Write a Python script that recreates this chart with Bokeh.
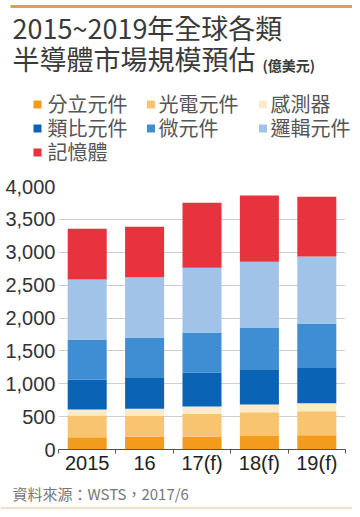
from bokeh.plotting import figure
from bokeh.models import ColumnDataSource, Range1d, FixedTicker, NumeralTickFormatter
from bokeh.layouts import column
from bokeh.embed import file_html
from bokeh.resources import INLINE
from bokeh.core.properties import value

# ---------------- data (億美元) ----------------
years = ["2015", "16", "17(f)", "18(f)", "19(f)"]
series_names = ["分立元件", "光電元件", "感測器", "類比元件", "微元件", "邏輯元件", "記憶體"]
discrete = [186, 194, 195, 205, 215]
opto = [333, 319, 350, 360, 365]
sensor = [88, 108, 110, 120, 125]
analog = [452, 478, 515, 535, 545]
micro = [613, 606, 608, 635, 665]
logic = [915, 915, 988, 1000, 1020]
memory = [772, 768, 988, 1008, 910]
y_ticks = [0, 500, 1000, 1500, 2000, 2500, 3000, 3500, 4000]

title_line1 = "2015~2019年全球各類"
title_line2 = "半導體市場規模預估"
unit_text = "(億美元)"
source_text = "資料來源：WSTS，2017/6"

colors = ["#F29B1D", "#F8C470", "#FCEBCB", "#0B63B5", "#3F8ED3", "#A2C3E8", "#E8333E"]

CJK = "Noto Sans CJK TC"
LAT = "Liberation Sans"

W = 352
HEADER_H = 173

# ---------------- header (title + legend) ----------------
header = figure(width=W, height=HEADER_H, x_range=Range1d(0, W), y_range=Range1d(HEADER_H, 0),
                x_axis_location=None, y_axis_location=None, toolbar_location=None,
                output_backend="svg", min_border=0, outline_line_color=None, frame_align=False)
header.xgrid.visible = False
header.ygrid.visible = False

header.segment(x0=[10], y0=[6], x1=[352], y1=[6], line_color="#D8A24E", line_width=3)
header.text(x=[12], y=[27], text=[title_line1], text_font=value(CJK), text_font_size="27px",
            text_color="#3a3a3a", text_baseline="middle", text_align="left")
header.text(x=[12], y=[58], text=[title_line2], text_font=value(CJK), text_font_size="27px",
            text_color="#3a3a3a", text_baseline="middle", text_align="left")
header.text(x=[262], y=[64], text=[unit_text], text_font=value(CJK), text_font_size="14px",
            text_font_style="bold", text_color="#3a3a3a", text_baseline="middle", text_align="left")

sq_x = [37, 150.5, 262.5]
tx_x = [47, 158, 270]
row_y = [103, 127, 151]
lx, ly, ltx = [], [], []
for i, name in enumerate(series_names):
    c, r = i % 3, i // 3
    lx.append(sq_x[c]); ly.append(row_y[r] + 1); ltx.append(tx_x[c])
header.rect(x=lx, y=ly, width=8, height=8, width_units="screen", height_units="screen",
            fill_color=colors, line_color=None)
header.text(x=ltx, y=[row_y[i // 3] for i in range(len(series_names))], text=series_names,
            text_font=value(CJK), text_font_size="20px", text_color="#555555",
            text_baseline="middle", text_align="left")

# ---------------- chart ----------------
xs = [i + 0.5 for i in range(len(years))]
data = {"x": xs}
for name, vals in zip(series_names, [discrete, opto, sensor, analog, micro, logic, memory]):
    data[name] = vals
src = ColumnDataSource(data)

p = figure(frame_width=287, frame_height=263, x_range=Range1d(0, len(years)),
           y_range=Range1d(0, 4000), toolbar_location=None, output_backend="svg",
           min_border_left=58, min_border_right=7, min_border_top=186 - HEADER_H,
           min_border_bottom=31, outline_line_color=None, frame_align=False)
p.vbar_stack(series_names, x="x", width=0.68, color=colors, line_color=None, source=src)

p.xgrid.visible = False
p.ygrid.grid_line_color = "#cfcfcf"
p.ygrid.grid_line_width = 1

p.xaxis.ticker = FixedTicker(ticks=xs, minor_ticks=list(range(len(years) + 1)))
p.xaxis.major_label_overrides = {x: y for x, y in zip(xs, years)}
p.xaxis.major_tick_line_color = None
p.xaxis.major_tick_out = 0
p.xaxis.major_tick_in = 0
p.xaxis.minor_tick_out = 4
p.xaxis.minor_tick_in = 0
p.xaxis.minor_tick_line_color = "#555555"
p.xaxis.axis_line_color = "#555555"
p.xaxis.major_label_text_font = LAT
p.xaxis.major_label_text_font_size = "20px"
p.xaxis.major_label_text_color = "#222222"
p.xaxis.major_label_standoff = -2

p.yaxis.ticker = FixedTicker(ticks=y_ticks)
p.yaxis.formatter = NumeralTickFormatter(format="0,0")
p.yaxis.axis_line_color = None
p.yaxis.major_tick_line_color = None
p.yaxis.minor_tick_line_color = None
p.yaxis.major_tick_out = 0
p.yaxis.major_tick_in = 0
p.yaxis.major_label_standoff = 3
p.yaxis.major_label_text_font = LAT
p.yaxis.major_label_text_font_size = "20px"
p.yaxis.major_label_text_color = "#333333"

# ---------------- footer ----------------
footer = figure(width=W, height=29, x_range=Range1d(0, W), y_range=Range1d(29, 0),
                x_axis_location=None, y_axis_location=None, toolbar_location=None,
                output_backend="svg", min_border=0, outline_line_color=None, frame_align=False)
footer.xgrid.visible = False
footer.ygrid.visible = False
footer.text(x=[12], y=[13], text=[source_text], text_font=value(CJK), text_font_size="15px",
            text_color="#777777", text_baseline="middle", text_align="left")
footer.segment(x0=[0], y0=[27.5], x1=[352], y1=[27.5], line_color="#EDE3C4", line_width=2)

layout = column(header, p, footer, spacing=0)
open("out.html", "w").write(file_html(layout, INLINE))
